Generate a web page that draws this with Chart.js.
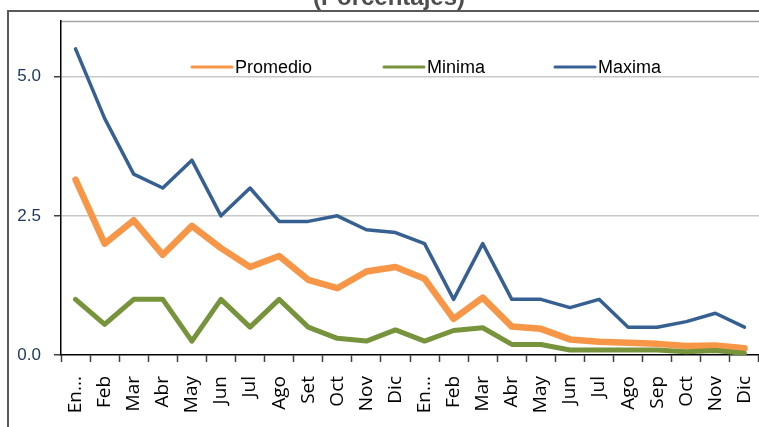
<!DOCTYPE html>
<html>
<head>
<meta charset="utf-8">
<script src="https://cdn.jsdelivr.net/npm/chart.js@4/dist/chart.umd.min.js"></script>
<style>
  html, body { margin: 0; padding: 0; background: #fff; }
  #wrap { width: 759px; height: 427px; }
</style>
</head>
<body>
<div id="wrap"><canvas id="chart" width="759" height="427"></canvas></div>
<script>
// categories (two years, monthly)
const months = ['En...','Feb','Mar','Abr','May','Jun','Jul','Ago','Set','Oct','Nov','Dic',
                'En...','Feb','Mar','Abr','May','Jun','Jul','Ago','Sep','Oct','Nov','Dic'];

// series
const promedio = [3.15, 2.0, 2.42, 1.8, 2.32, 1.92, 1.58, 1.78, 1.35, 1.2, 1.5, 1.58,
                  1.37, 0.65, 1.03, 0.51, 0.47, 0.28, 0.24, 0.22, 0.2, 0.16, 0.17, 0.12];
const minima   = [1.0, 0.55, 1.0, 1.0, 0.25, 1.0, 0.5, 1.0, 0.5, 0.3, 0.25, 0.45,
                  0.25, 0.44, 0.49, 0.19, 0.19, 0.09, 0.09, 0.09, 0.09, 0.06, 0.08, 0.03];
const maxima   = [5.5, 4.25, 3.25, 3.0, 3.5, 2.5, 3.0, 2.4, 2.4, 2.5, 2.25, 2.2,
                  2.0, 1.0, 2.0, 1.0, 1.0, 0.85, 1.0, 0.5, 0.5, 0.6, 0.75, 0.5];

const yTicks = [0, 2.5, 5.0];
const title = '(Porcentajes)';

const COLORS = { promedio: '#F79646', minima: '#77933C', maxima: '#376092' };

// frame, title, top border and in-plot legend
const decor = {
    id: 'decor',
    beforeDraw(chart){
        const c = chart.ctx, a = chart.chartArea;
        c.save();
        c.strokeStyle = '#595959';
        c.lineWidth = 2;
        c.strokeRect(8, 11, 800, 500);
        c.fillStyle = '#4D4D4D';
        c.font = 'bold 24px "Liberation Sans", Arial, sans-serif';
        c.textAlign = 'center';
        c.textBaseline = 'alphabetic';
        c.fillText(title, 389, 5);
        c.strokeStyle = '#A6A6A6';
        c.lineWidth = 1.5;
        c.beginPath(); c.moveTo(a.left, a.top + 0.5); c.lineTo(a.right + 5, a.top + 0.5); c.stroke();
        c.restore();
    },
    afterDatasetsDraw(chart){
        const c = chart.ctx;
        const spots = [192, 384, 555];
        c.save();
        c.font = '18px "Liberation Sans", Arial, sans-serif';
        c.textBaseline = 'middle';
        c.textAlign = 'left';
        chart.data.datasets.forEach((ds, i) => {
            const x = spots[i], y = 67;
            c.strokeStyle = ds.borderColor;
            c.lineWidth = 3;
            c.lineCap = 'round';
            c.beginPath(); c.moveTo(x, y); c.lineTo(x + 40, y); c.stroke();
            c.fillStyle = '#000';
            c.fillText(ds.label, x + 43, y + 1);
        });
        c.restore();
    }
};

const ds = (label, data, color, width, order) => ({
    label, data, borderColor: color, backgroundColor: color, borderWidth: width,
    pointRadius: 0, tension: 0, borderJoinStyle: 'round', borderCapStyle: 'round', order
});

new Chart(document.getElementById('chart'), {
    type: 'line',
    data: {
        labels: months,
        datasets: [
            ds('Promedio', promedio, COLORS.promedio, 6.5, 3),
            ds('Minima', minima, COLORS.minima, 5, 2),
            ds('Maxima', maxima, COLORS.maxima, 3.5, 1)
        ]
    },
    options: {
        responsive: false,
        animation: false,
        layout: { padding: { top: 21, left: 0, right: 0, bottom: 0 } },
        plugins: { legend: { display: false }, tooltip: { enabled: false } },
        scales: {
            x: {
                offset: true,
                afterFit(s){ s.height = 72; s.paddingLeft = 0; s.paddingRight = 0; },
                grid: { offset: true, drawOnChartArea: false, tickLength: 7, tickColor: '#404040', tickWidth: 1.5 },
                border: { color: '#000', width: 1.5 },
                ticks: {
                    autoSkip: false, minRotation: 90, maxRotation: 90, padding: 14,
                    color: '#000', font: { family: '"Open Sans", "Noto Sans", sans-serif', size: 19 }
                }
            },
            y: {
                min: 0, max: 6,
                afterFit(s){ s.width = 61; s.paddingTop = 0; s.paddingBottom = 0; },
                afterBuildTicks(s){ s.ticks = yTicks.map(v => ({ value: v })); },
                grid: {
                    color: ctx => ctx.tick && ctx.tick.value === 0 ? 'rgba(0,0,0,0)' : '#C8C8C8',
                    lineWidth: 1.5, tickLength: 7, tickColor: '#404040'
                },
                border: { color: '#000', width: 1.5 },
                ticks: {
                    padding: 13, color: '#1F3A60',
                    font: { family: '"Liberation Sans", Arial, sans-serif', size: 17 },
                    callback: v => Number(v).toFixed(1)
                }
            }
        }
    },
    plugins: [decor]
});
</script>
</body>
</html>
